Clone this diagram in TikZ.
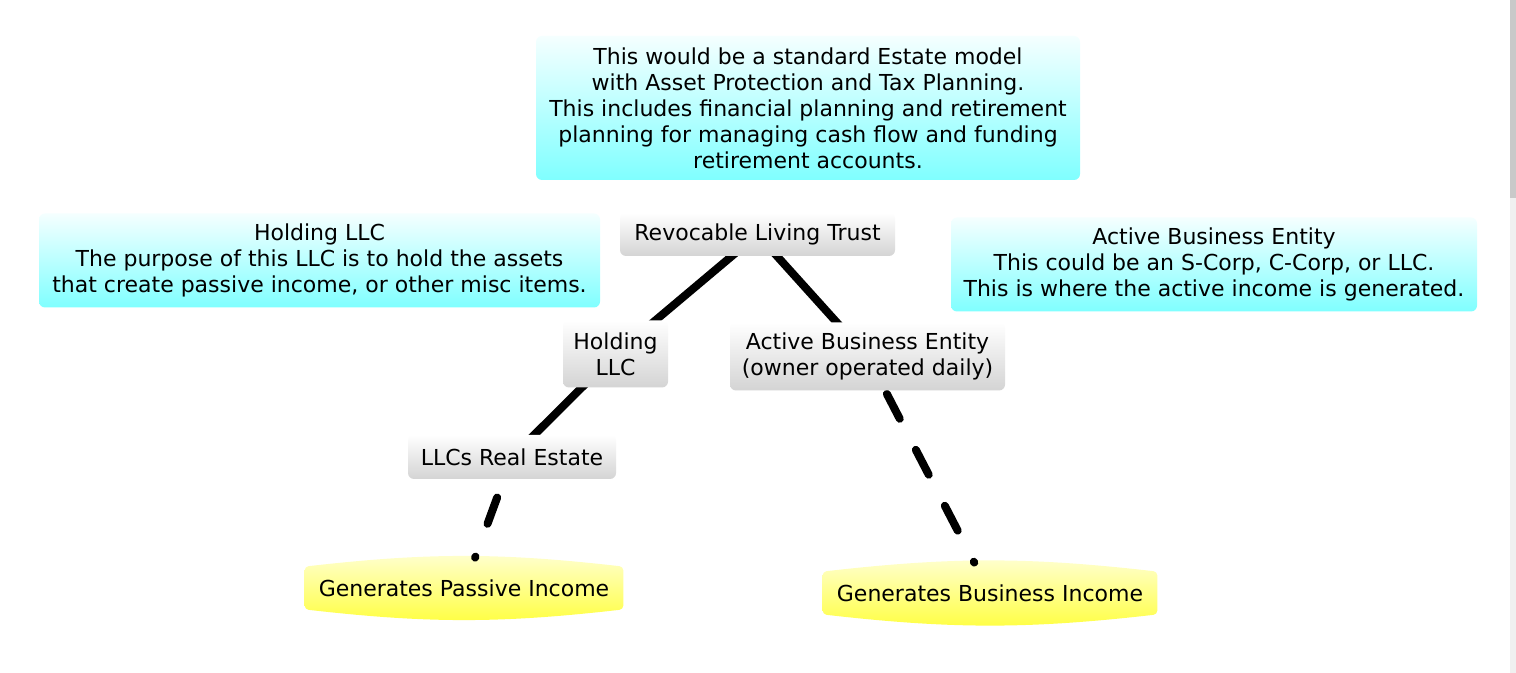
\documentclass[tikz,border=0pt]{standalone}
\usepackage{fontspec}
\setmainfont{DejaVu Sans}
\usetikzlibrary{backgrounds}

\tikzset{
  note/.style={rounded corners=3pt,top color=cyan!4,bottom color=cyan!50,align=center,inner sep=0pt},
  entity/.style={rounded corners=3pt,top color=white,bottom color=black!17,align=center,inner sep=0pt},
  income/.style={align=center,inner sep=0pt},
  glow/.style={rounded corners=2pt,top color=yellow!18,bottom color=yellow!75},
  tie/.style={line width=4pt},
  flow/.style={line width=4pt,line cap=round,dash pattern=on 14pt off 17.5pt,dash phase=13.5pt}
}

\begin{document}
\begin{tikzpicture}[x=0.5pt,y=-0.5pt,font=\fontsize{11}{13}\selectfont]
  \useasboundingbox (0,0) rectangle (1516,673);
  \node[note,minimum width=272pt,minimum height=72pt] (model) at (808,108)
    {This would be a standard Estate model\\with Asset Protection and Tax Planning.\\This includes financial planning and retirement\\planning for managing cash flow and funding\\retirement accounts.};
  \node[entity,minimum width=137.5pt,minimum height=21.5pt] (trust) at (757.5,234.5) {Revocable Living Trust};
  \node[note,minimum width=280.5pt,minimum height=47pt] (holdnote) at (319.5,260.5)
    {Holding LLC\\The purpose of this LLC is to hold the assets\\that create passive income, or other misc items.};
  \node[note,minimum width=263pt,minimum height=47pt] (activenote) at (1214,264.5)
    {Active Business Entity\\This could be an S-Corp, C-Corp, or LLC.\\This is where the active income is generated.};
  \node[entity,minimum width=52.5pt,minimum height=33.5pt] (holding) at (615.5,354) {Holding\\LLC};
  \node[entity,minimum width=137.5pt,minimum height=34pt] (active) at (867.5,356.5) {Active Business Entity\\(owner operated daily)};
  \node[entity,minimum width=104pt,minimum height=22pt] (estate) at (512,457) {LLCs Real Estate};
  \node[income,minimum width=159pt,minimum height=30pt] (passive) at (464,588) {Generates Passive Income};
  \node[income,minimum width=167pt,minimum height=30pt] (business) at (990,593) {Generates Business Income};

  \begin{scope}[on background layer]
    \fill[white] (0,0) rectangle (1516,673);
    \foreach \n in {passive,business}
      \path[glow] ([yshift=-4.5pt]\n.north west) to[bend left=6.5] ([yshift=-4.5pt]\n.north east)
        -- ([yshift=4.5pt]\n.south east) to[bend left=6.5] ([yshift=4.5pt]\n.south west) -- cycle;
    \draw[tie] (trust.center) -- (holding.center);
    \draw[tie] (trust.center) -- (active.center);
    \draw[tie] (holding.center) -- (estate.center);
    \draw[flow] (passive) -- (estate);
    \draw[flow] (business) -- (active);
  \end{scope}

  \fill[black!6] (1510,0) rectangle (1516,673);
  \fill[black!21] (1510,0) rectangle (1516,198);
\end{tikzpicture}
\end{document}
